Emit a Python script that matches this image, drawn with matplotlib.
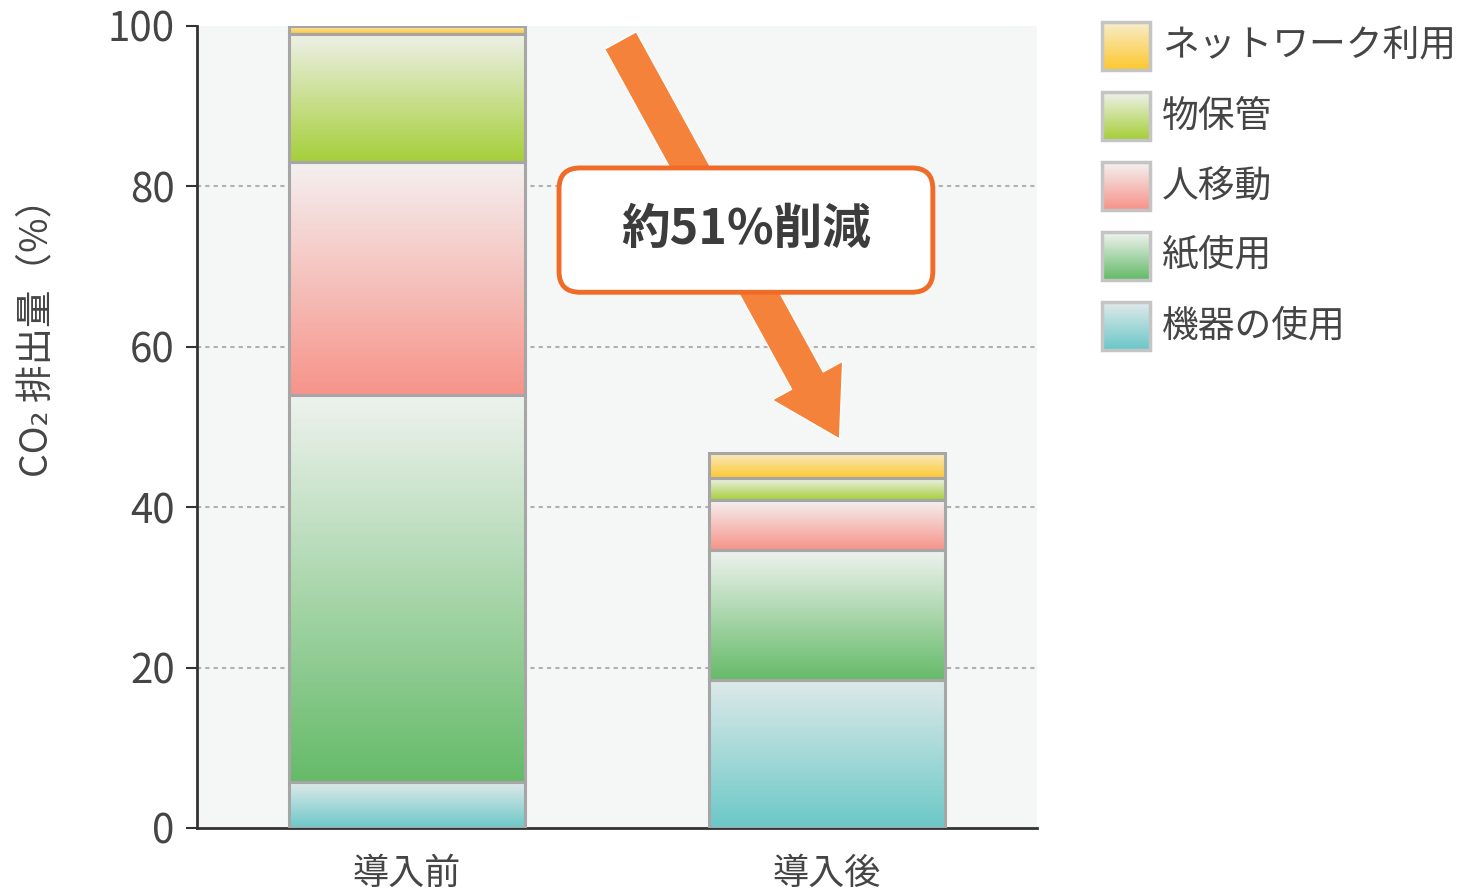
import numpy as np
import matplotlib
matplotlib.use('Agg')
from matplotlib import pyplot
from matplotlib.colors import to_rgb
from matplotlib.patches import Rectangle, FancyBboxPatch

# data (percent of CO2 emissions before introduction)
stages = ['導入前', '導入後']
categories = ['機器の使用', '紙使用', '人移動', '物保管', 'ネットワーク利用']
kiki = [5.7, 18.5]
kami = [48.3, 16.2]
hito = [29.0, 6.2]
mono = [16.0, 2.7]
network = [1.0, 3.2]
yticks = [0, 20, 40, 60, 80, 100]
reduction_label = '約51%削減'

# pale top colour, saturated bottom colour for each category
top_colors = ['#dfe9e9', '#eef2ee', '#f4f0f0', '#eef0e8', '#f8ecc8']
bottom_colors = ['#6cc8c8', '#66bb6a', '#f7948a', '#a6cf3a', '#fdc830']

TXT = '#454545'
EDGE = '#a6a6a6'
pyplot.rcParams['font.family'] = ['Noto Sans CJK JP', 'DejaVu Sans']


def gradient(top, bottom, n=64):
    t = np.linspace(0, 1, n)[:, None]
    c = (1 - t) * np.array(to_rgb(top)) + t * np.array(to_rgb(bottom))
    return c[:, None, :]


fig = pyplot.figure(figsize=(14.75, 8.89), dpi=100)
ax = fig.add_axes([197 / 1475, 61 / 889, 840 / 1475, 802 / 889])
ax.set_facecolor('#f5f7f6')

series = [kiki, kami, hito, mono, network]
width = 0.56
x = np.arange(len(stages))
for i, xi in enumerate(x):
    base = 0.0
    for k, vals in enumerate(series):
        v = vals[i]
        ax.imshow(gradient(top_colors[k], bottom_colors[k]), origin='upper',
                  extent=[xi - width / 2, xi + width / 2, base, base + v],
                  aspect='auto', zorder=2, interpolation='bilinear')
        ax.add_patch(Rectangle((xi - width / 2, base), width, v, fill=False,
                               ec=EDGE, lw=2.2, zorder=3))
        base += v

ax.set_xlim(-0.5, 1.5)
ax.set_ylim(0, 100)
ax.set_yticks(yticks)
ax.set_yticklabels([str(t) for t in yticks], fontsize=29, color=TXT)
ax.set_xticks(x)
ax.set_xticklabels(stages, fontsize=26, color=TXT)
ax.tick_params(axis='y', length=8, width=1.5, color='#333333', pad=8)
ax.tick_params(axis='x', length=0, pad=20)
for t in yticks[1:-1]:
    ax.axhline(t, color='#b0b0b0', lw=1.5, ls=(0, (2, 2)), zorder=1)
for s in ['top', 'right']:
    ax.spines[s].set_visible(False)
for s in ['left', 'bottom']:
    ax.spines[s].set_color('#333333')
    ax.spines[s].set_linewidth(2)
ax.set_ylabel('CO₂ 排出量（%）', fontsize=27, color=TXT)
ax.yaxis.set_label_coords(-0.167, 0.623)

# reduction arrow and callout box
ax.annotate('', xy=(1.033, 48.2), xytext=(0.505, 98.5),
            arrowprops=dict(arrowstyle='simple,head_width=2.9,head_length=2.4,tail_width=1.3',
                            mutation_scale=20, fc='#f5823a', ec='white', lw=1),
            zorder=4)
ax.add_patch(FancyBboxPatch((0.362, 66.8), 0.89, 15.5,
                            boxstyle='round,pad=0,rounding_size=0.05',
                            mutation_aspect=52, fc='white', ec='#f06a28',
                            lw=3.5, zorder=5))
ax.text(0.807, 74.6, reduction_label, fontsize=35, fontweight='bold',
        color='#3c3c3c', ha='center', va='center', zorder=6)

# legend drawn with gradient swatches, top item first
lax = fig.add_axes([0, 0, 1, 1])
lax.set_xlim(0, 1475)
lax.set_ylim(889, 0)
lax.axis('off')
for j, k in enumerate(range(len(categories) - 1, -1, -1)):
    y0 = 22 + j * 70
    lax.imshow(gradient(top_colors[k], bottom_colors[k]), origin='upper',
               extent=[1103, 1149, y0 + 47, y0 + 1], aspect='auto',
               interpolation='bilinear')
    lax.add_patch(Rectangle((1102, y0), 48, 48, fill=False, ec='#c4c4c4', lw=2.5))
    lax.text(1162, y0 + 24, categories[k], fontsize=26.5, color=TXT,
             ha='left', va='center')
lax.set_xlim(0, 1475)
lax.set_ylim(889, 0)

fig.savefig('out.png', dpi=100)
